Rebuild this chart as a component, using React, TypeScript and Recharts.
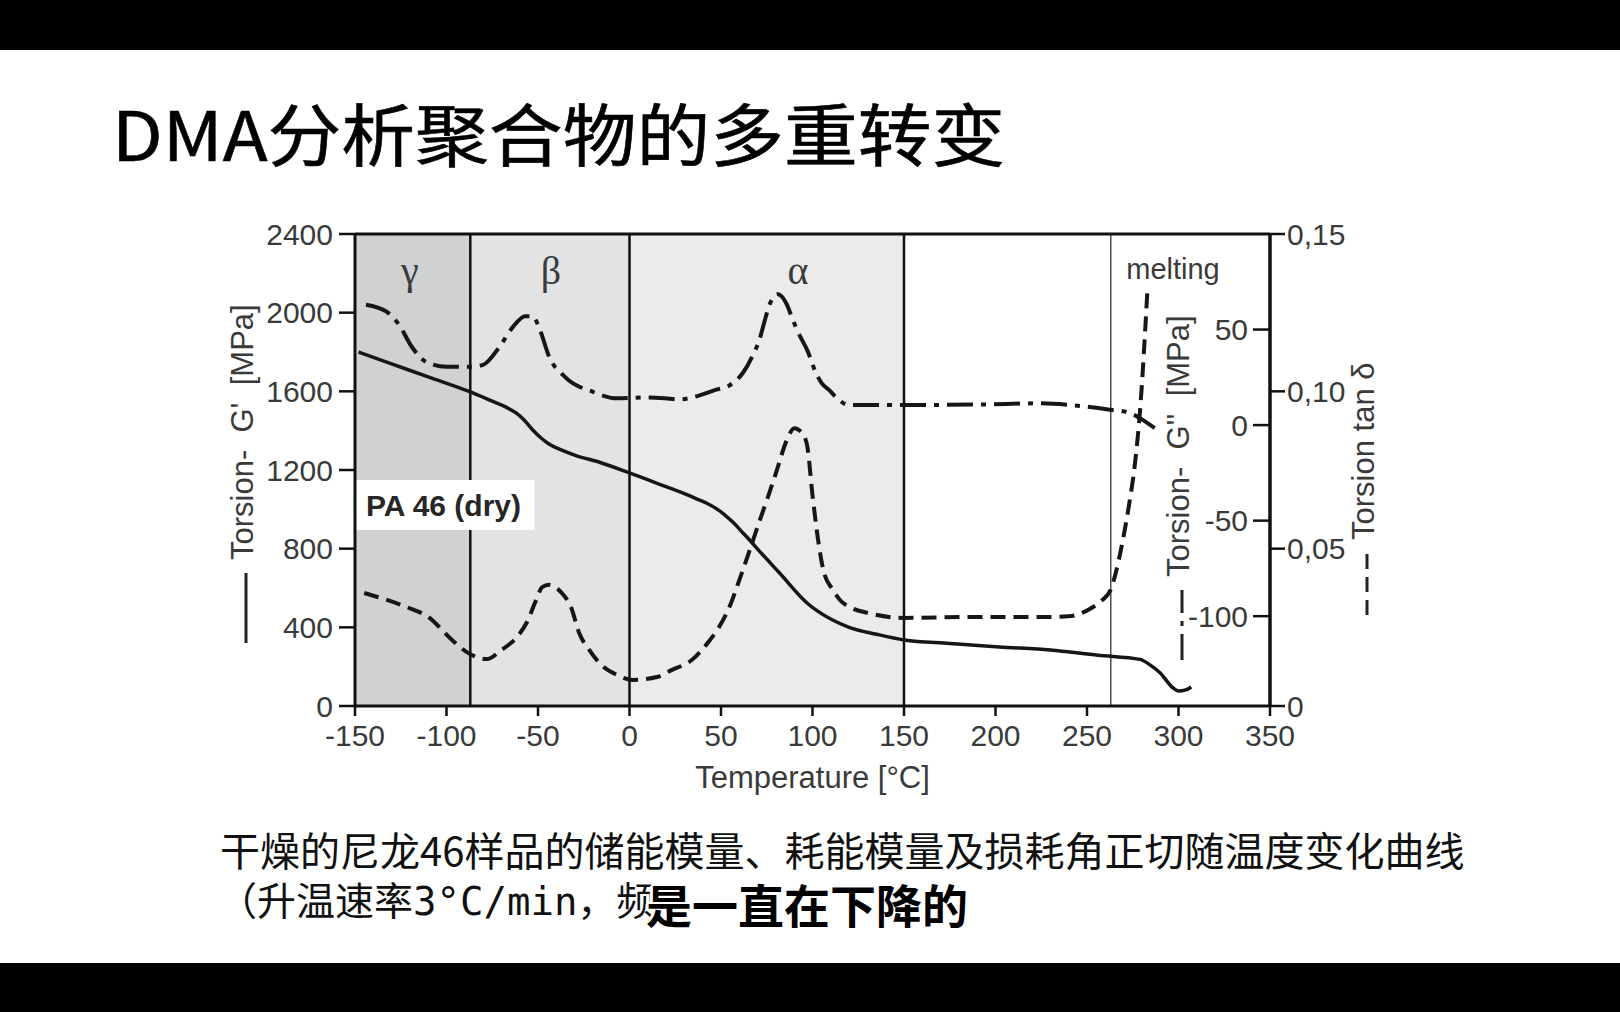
import React from "react";
import { LineChart, Line, XAxis, YAxis, ReferenceArea, ReferenceLine } from "recharts";

// temperature axis
const tempTicks = [-150, -100, -50, 0, 50, 100, 150, 200, 250, 300, 350];
const storageTicks = [0, 400, 800, 1200, 1600, 2000, 2400];
const lossTicks = [-100, -50, 0, 50];
const tanTicks = [0, 0.05, 0.1, 0.15];

// G' (solid)
const storageTemp = [-148, -130, -110, -87, -75, -68, -62, -58, -53, -48, -44, -38, -30, -16, 0, 20, 30, 36, 42, 47, 52, 57, 62, 66, 70, 82, 97, 111, 120, 135, 150, 175, 202, 230, 256, 279, 285, 290, 297, 300, 304, 307];
const storageModulus = [1800, 1740, 1673, 1597, 1550, 1522, 1490, 1458, 1405, 1360, 1332, 1305, 1276, 1238, 1185, 1115, 1080, 1056, 1032, 1006, 972, 930, 880, 840, 798, 676, 524, 437, 400, 365, 336, 318, 300, 285, 258, 237, 205, 168, 92, 76, 82, 97];

// G'' (dash-dot)
const lossTemp = [-144, -133, -126, -119, -111, -100, -87, -80, -71, -64, -57, -53, -49, -44, -35, -20, -7, 11, 27, 47, 55, 62, 67, 71, 74, 76.5, 79, 81, 83, 86, 88.5, 91, 94, 97, 102, 105, 109, 114, 120, 151, 193, 224, 248, 263, 272, 280, 287];
const lossModulus = [63, 59.5, 52.6, 41, 33, 30.5, 30.5, 31.5, 41, 51, 57, 57, 50, 36, 25, 17.4, 14, 14.5, 13.5, 18.4, 21, 27.4, 35.8, 44.7, 55, 63, 67.5, 68.5, 67.5, 63, 57, 51, 45, 39.5, 27, 22, 18.4, 13.5, 10.5, 10.5, 10.8, 11.4, 9.8, 8, 6.8, 3, -1.6];

// tan delta (dashed)
const tanTemp = [-145, -122, -110, -97, -88, -78, -70, -62, -56, -51, -47.7, -44, -37, -32, -27.5, -22, -16.5, -7, 1.5, 15, 23, 34, 44, 48, 55, 60, 67, 71, 76, 80, 86, 90, 94, 97, 100, 103, 106, 111, 115, 122, 130, 150, 190, 230, 240, 252, 258, 263, 266, 269, 273, 276, 279, 283];
const tanDelta = [0.0359, 0.0315, 0.0283, 0.021, 0.0168, 0.0149, 0.0178, 0.0216, 0.0267, 0.0337, 0.0378, 0.0385, 0.0359, 0.0315, 0.0232, 0.0178, 0.0137, 0.0099, 0.0083, 0.0092, 0.0114, 0.0146, 0.021, 0.0242, 0.032, 0.04, 0.0518, 0.0587, 0.067, 0.074, 0.0845, 0.0883, 0.087, 0.083, 0.067, 0.053, 0.043, 0.037, 0.0337, 0.031, 0.0296, 0.028, 0.0283, 0.0283, 0.0285, 0.031, 0.0335, 0.037, 0.043, 0.051, 0.064, 0.076, 0.094, 0.132];

// transition regions
const transitionEdges = [-150, -87, 0, 150];
const transitionNames = ["γ", "β", "α"];
const transitionLabelTemps = [-120, -43, 92];
const meltingTemp = 263;
const meltingLabelTemp = 297;
const sampleBox = { x1: -150, x2: -52, y1: 895, y2: 1149 };

const toPoints = (t: number[], v: number[]) => t.map((T, i) => ({ T, v: v[i] }));
const storageData = toPoints(storageTemp, storageModulus);
const lossData = toPoints(lossTemp, lossModulus);
const tanData = toPoints(tanTemp, tanDelta);

const SANS = "'Liberation Sans', Arial, sans-serif";
const CJK = "'Noto Sans CJK SC', sans-serif";
const INK = "#3a3a3a";
const AXIS = "#111";
const regionFills = ["#d0d1d3", "#e2e3e4", "#ebebeb"];
const DASH_DOT = "26 8 5 8";
const DASHED = "15 8";

const tickStyle = { fontSize: 30, fill: INK, fontFamily: SANS };

function RotatedTitle({ baseX, startY, lineLen, text, dash }: { baseX: number; startY: number; lineLen: number; text: string; dash?: string }) {
  return (
    <g transform={`translate(${baseX},${startY}) rotate(-90)`}>
      <line x1={0} y1={-7} x2={lineLen} y2={-7} stroke="#222" strokeWidth={3} strokeDasharray={dash} />
      <text x={lineLen + 13} y={0} fontSize={31} fill={INK} fontFamily={SANS} style={{ whiteSpace: "pre" }}>
        {text}
      </text>
    </g>
  );
}

function LeftTitle(props: any) {
  const vb = props.viewBox;
  const edge = vb.x + vb.width;
  return <RotatedTitle baseX={edge - 102} startY={643} lineLen={70} text="Torsion-  G'  [MPa]" />;
}

function RightTitles(props: any) {
  const edge = props.viewBox.x;
  return (
    <g>
      <RotatedTitle baseX={edge - 81} startY={660} lineLen={70} text="Torsion-  G''  [MPa]" dash={DASH_DOT} />
      <RotatedTitle baseX={edge + 104} startY={615} lineLen={62} text="Torsion tan δ" dash={DASHED} />
    </g>
  );
}

const fmtTan = (v: number) => (v === 0 ? "0" : v.toFixed(2).replace(".", ","));

function DmaChart() {
  return (
    <LineChart width={1620} height={1012} margin={{ top: 234, right: 270, bottom: 216, left: 295 }}>
      <XAxis
        type="number"
        dataKey="T"
        domain={[-150, 350]}
        ticks={tempTicks}
        interval={0}
        height={90}
        tickSize={10}
        tickMargin={9}
        tick={tickStyle}
        axisLine={{ stroke: AXIS, strokeWidth: 3 }}
        tickLine={{ stroke: AXIS, strokeWidth: 2.5 }}
        label={{ value: "Temperature [°C]", position: "insideBottom", offset: 8, fontSize: 31, fill: INK, fontFamily: SANS }}
      />
      <YAxis
        yAxisId="g1"
        orientation="left"
        domain={[0, 2400]}
        ticks={storageTicks}
        interval={0}
        width={60}
        tickSize={16}
        tickMargin={6}
        tick={tickStyle}
        axisLine={{ stroke: AXIS, strokeWidth: 3 }}
        tickLine={{ stroke: AXIS, strokeWidth: 2.5 }}
        label={{ content: (p: any) => <LeftTitle {...p} /> }}
      />
      <YAxis
        yAxisId="g2"
        orientation="right"
        mirror
        domain={[-147, 100]}
        ticks={lossTicks}
        interval={0}
        width={60}
        tickSize={17}
        tickMargin={5}
        tick={tickStyle}
        axisLine={{ stroke: AXIS, strokeWidth: 3 }}
        tickLine={{ stroke: AXIS, strokeWidth: 2.5 }}
      />
      <YAxis
        yAxisId="tan"
        orientation="right"
        domain={[0, 0.15]}
        ticks={tanTicks}
        interval={0}
        width={80}
        tickSize={15}
        tickMargin={2}
        tick={tickStyle}
        tickFormatter={fmtTan}
        axisLine={{ stroke: AXIS, strokeWidth: 3 }}
        tickLine={{ stroke: AXIS, strokeWidth: 2.5 }}
        label={{ content: (p: any) => <RightTitles {...p} /> }}
      />

      {transitionNames.map((name, i) => (
        <ReferenceArea
          key={name}
          yAxisId="g1"
          x1={transitionEdges[i]}
          x2={transitionEdges[i + 1]}
          y1={0}
          y2={2400}
          fill={regionFills[i]}
          fillOpacity={1}
          stroke="none"
        />
      ))}
      <ReferenceArea
        yAxisId="g1"
        x1={sampleBox.x1}
        x2={sampleBox.x2}
        y1={sampleBox.y1}
        y2={sampleBox.y2}
        fill="#ffffff"
        fillOpacity={1}
        stroke="none"
        label={{ value: "PA 46 (dry)", position: "insideLeft", offset: 11, fontSize: 30, fontWeight: 700, fill: "#262626", fontFamily: SANS }}
      />
      <ReferenceLine yAxisId="g1" segment={[{ x: transitionEdges[1], y: 0 }, { x: transitionEdges[1], y: sampleBox.y1 }]} stroke={AXIS} strokeWidth={2.5} />
      <ReferenceLine yAxisId="g1" segment={[{ x: transitionEdges[1], y: sampleBox.y2 }, { x: transitionEdges[1], y: 2400 }]} stroke={AXIS} strokeWidth={2.5} />
      <ReferenceLine yAxisId="g1" x={transitionEdges[2]} stroke={AXIS} strokeWidth={2.5} />
      <ReferenceLine yAxisId="g1" x={transitionEdges[3]} stroke={AXIS} strokeWidth={2.5} />
      <ReferenceLine yAxisId="g1" x={meltingTemp} stroke="#333" strokeWidth={1.3} />
      <ReferenceLine yAxisId="g1" y={2400} stroke={AXIS} strokeWidth={3} />

      {transitionNames.map((name, i) => (
        <ReferenceLine
          key={"lab" + name}
          yAxisId="g1"
          x={transitionLabelTemps[i]}
          stroke="none"
          strokeOpacity={0}
          label={{ value: name, position: "insideTop", offset: 22, fontSize: 40, fill: INK, fontFamily: "'Liberation Serif', 'DejaVu Serif', serif" }}
        />
      ))}
      <ReferenceLine
        yAxisId="g1"
        x={meltingLabelTemp}
        stroke="none"
        strokeOpacity={0}
        label={{ value: "melting", position: "insideTop", offset: 24, fontSize: 29, fill: INK, fontFamily: SANS }}
      />

      <Line yAxisId="g1" data={storageData} dataKey="v" type="monotone" stroke="#161616" strokeWidth={3.5} dot={false} isAnimationActive={false} />
      <Line yAxisId="g2" data={lossData} dataKey="v" type="monotone" stroke="#161616" strokeWidth={4} strokeDasharray={DASH_DOT} dot={false} isAnimationActive={false} />
      <Line yAxisId="tan" data={tanData} dataKey="v" type="monotone" stroke="#161616" strokeWidth={4} strokeDasharray={DASHED} dot={false} isAnimationActive={false} />
    </LineChart>
  );
}

export default function App() {
  return (
    <div style={{ position: "absolute", left: 0, top: 0, width: 1620, height: 1012, background: "#fff", overflow: "hidden" }}>
      <div style={{ position: "absolute", left: 0, top: 0, width: 1620, height: 50, background: "#000" }} />
      <div style={{ position: "absolute", left: 0, top: 963, width: 1620, height: 49, background: "#000" }} />
      <div style={{ position: "absolute", left: 0, top: 0 }}>
        <DmaChart />
      </div>
      <div
        style={{
          position: "absolute",
          left: 112,
          top: 92,
          fontFamily: CJK,
          fontSize: 68,
          lineHeight: "80px",
          color: "#000",
          whiteSpace: "nowrap",
          transform: "scaleX(1.085)",
          transformOrigin: "left top",
          WebkitTextStroke: "0.6px #000",
        }}
      >
        DMA分析聚合物的多重转变
      </div>
      <div style={{ position: "absolute", left: 220, top: 826, fontFamily: CJK, fontSize: 40, lineHeight: "46px", color: "#111", whiteSpace: "nowrap" }}>
        干燥的尼龙46样品的储能模量、耗能模量及损耗角正切随温度变化曲线
      </div>
      <div
        style={{
          position: "absolute",
          left: 218,
          top: 880,
          fontFamily: "'DejaVu Sans Mono', 'Noto Sans CJK SC', monospace",
          fontSize: 39,
          lineHeight: "44px",
          color: "#111",
          whiteSpace: "nowrap",
        }}
      >
        （升温速率3°C/min，频
      </div>
      <div
        style={{
          position: "absolute",
          left: 646,
          top: 878,
          fontFamily: CJK,
          fontWeight: 700,
          fontSize: 46,
          lineHeight: "50px",
          color: "#000",
          whiteSpace: "nowrap",
          textShadow:
            "3px 0 0 #fff, -3px 0 0 #fff, 0 3px 0 #fff, 0 -3px 0 #fff, 2px 2px 0 #fff, -2px -2px 0 #fff, 2px -2px 0 #fff, -2px 2px 0 #fff",
        }}
      >
        是一直在下降的
      </div>
    </div>
  );
}
